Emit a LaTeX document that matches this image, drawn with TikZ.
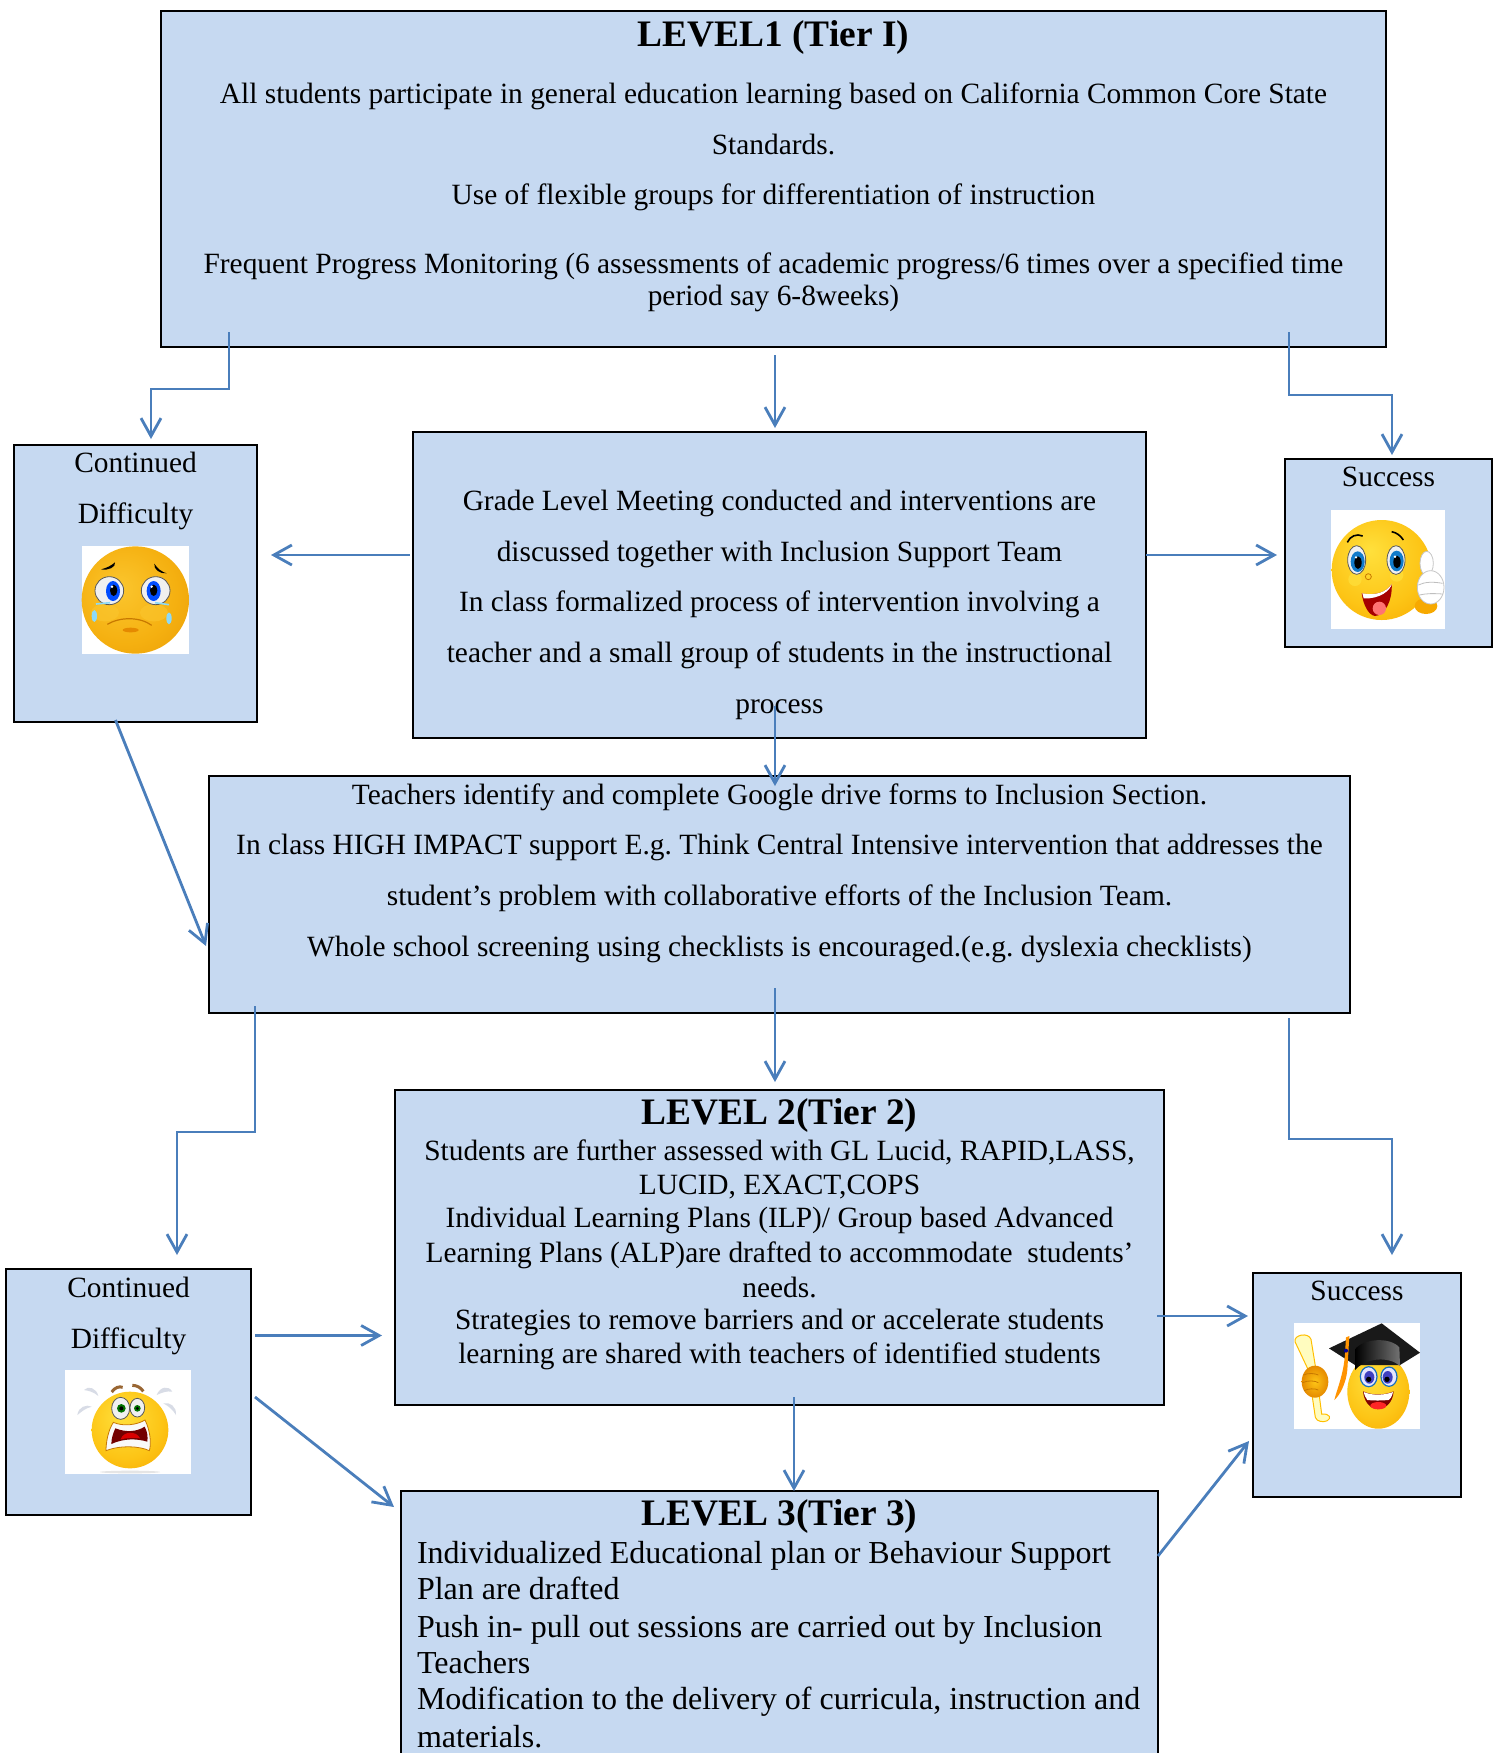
\documentclass[tikz,border=0pt]{standalone}
\usepackage{fontspec}
\setmainfont{Liberation Serif}
\usetikzlibrary{arrows.meta}
\definecolor{boxfill}{HTML}{C6D9F1}
\definecolor{arrowblue}{HTML}{4A7EBB}
\definecolor{emoA}{HTML}{FFE03C}
\definecolor{emoB}{HTML}{FDC516}
\definecolor{emoC}{HTML}{F7A900}
\definecolor{emoD}{HTML}{E58A00}
\definecolor{emoE}{HTML}{C77800}
\definecolor{sadA}{HTML}{FBC62E}
\definecolor{sadB}{HTML}{F5B010}
\definecolor{sadC}{HTML}{E89A05}
\definecolor{sadD}{HTML}{D98400}
\definecolor{dropc}{HTML}{D8DCE6}
\pgfdeclareradialshading{emoball}{\pgfpoint{-6bp}{10bp}}{color(0bp)=(emoA); color(24bp)=(emoB); color(40bp)=(emoC); color(52bp)=(emoD); color(60bp)=(emoE)}
\pgfdeclareradialshading{sadball}{\pgfpoint{-8bp}{6bp}}{color(0bp)=(sadA); color(24bp)=(sadB); color(42bp)=(sadC); color(55bp)=(sadD); color(62bp)=(emoE)}
\newcommand\txl[2]{{\baselineskip=\dimexpr#1pt/2\relax #2\par}}
\newcommand\titl[2]{{\titlefont\baselineskip=\dimexpr#1pt/2\relax #2\par}}
\newcommand\boxtext[4][\centering]{\vbox to \dimexpr#3pt/2\relax{\hsize=\dimexpr#2pt/2\relax\frenchspacing #1\lineskiplimit=-1000pt\prevdepth=0pt #4\vss}}
\newcommand\titlefont{\fontsize{18.7}{20}\selectfont\bfseries}
\tikzset{
  diagbox/.style={draw=black,line width=1pt,fill=boxfill,inner sep=0pt,outer sep=0pt,font=\fontsize{14.7}{16}\selectfont},
  arr/.style={draw=arrowblue,line width=1.4pt,-{Straight Barb[length=9pt,width=10pt,line width=1.4pt]}},
  emoscale/.style={x=.16667pt,y=-.16667pt},
  eyew/.style={fill=white!88!gray,draw=black!65,line width=.4pt},
  glove/.style={fill=white,draw=gray!45,line width=.4pt}
}
\begin{document}
\begin{tikzpicture}[x=.5pt,y=-.5pt]
\useasboundingbox (0,0) rectangle (1501,1753);
\clip (0,0) rectangle (1501,1753);
\node[diagbox,minimum width=612.5pt,minimum height=168pt] (l1) at (773.5,179) {\boxtext{1225}{336}{%
  \titl{35}{LEVEL1 (Tier I)}
  \txl{57}{All students participate in general education learning based on California Common Core State}
  \txl{51}{Standards.}
  \txl{50.5}{Use of flexible groups for differentiation of instruction}
  \txl{68.5}{Frequent Progress Monitoring (6 assessments of academic progress/6 times over a specified time}
  \txl{32}{period say 6-8weeks)}}};
\node[diagbox,minimum width=366.5pt,minimum height=153pt] (mid) at (779.5,585) {\boxtext{733}{306}{%
  \txl{78}{Grade Level Meeting conducted and interventions are}
  \txl{51}{discussed together with Inclusion Support Team}
  \txl{50}{In class formalized process of intervention involving a}
  \txl{51}{teacher and a small group of students in the instructional}
  \txl{51}{process}}};
\node[diagbox,minimum width=570.5pt,minimum height=118.5pt] (tier) at (779.5,894.5) {\boxtext{1141}{237}{%
  \txl{28}{Teachers identify and complete Google drive forms to Inclusion Section.}
  \txl{50}{In class HIGH IMPACT support E.g. Think Central Intensive intervention that addresses the}
  \txl{51}{student’s problem with collaborative efforts of the Inclusion Team.}
  \txl{51}{Whole school screening using checklists is encouraged.(e.g. dyslexia checklists)}}};
\node[diagbox,minimum width=384.5pt,minimum height=157.5pt] (l2) at (779.5,1247.5) {\boxtext{769}{315}{%
  \titl{34}{LEVEL 2(Tier 2)}
  \txl{36}{Students are further assessed with GL Lucid, RAPID,LASS,}
  \txl{34}{LUCID, EXACT,COPS}
  \txl{33}{Individual Learning Plans (ILP)/ Group based Advanced}
  \txl{35}{Learning Plans (ALP)are drafted to accommodate\ \ students’}
  \txl{35}{needs.}
  \txl{32}{Strategies to remove barriers and or accelerate students}
  \txl{34}{learning are shared with teachers of identified students}}};
\node[diagbox,font=\fontsize{16}{18}\selectfont,minimum width=378.5pt,minimum height=144.5pt] (l3) at (779.5,1635.5) {\boxtext[\raggedright\leftskip=8pt\relax]{757}{289}{%
  \titl{34}{\hfill LEVEL 3(Tier 3)\hfill\hskip 8pt\hbox{}}
  \txl{38}{Individualized Educational plan or Behaviour Support}
  \txl{36}{Plan are drafted}
  \txl{38}{Push in- pull out sessions are carried out by Inclusion}
  \txl{36}{Teachers}
  \txl{36}{Modification to the delivery of curricula, instruction and}
  \txl{38}{materials.}}};
\node[diagbox,minimum width=121.5pt,minimum height=138.5pt] (cd1) at (135.5,583.5) {\boxtext{243}{277}{%
  \txl{27}{Continued}
  \txl{51}{Difficulty}}};
\node[diagbox,minimum width=103.5pt,minimum height=94pt] (s1) at (1388.5,553) {\boxtext{207}{188}{%
  \txl{27}{Success}}};
\node[diagbox,minimum width=122.5pt,minimum height=123pt] (cd2) at (128.5,1392) {\boxtext{245}{246}{%
  \txl{28}{Continued}
  \txl{51}{Difficulty}}};
\node[diagbox,minimum width=104pt,minimum height=112pt] (s2) at (1357,1385) {\boxtext{208}{224}{%
  \txl{27}{Success}}};

% sad face
\begin{scope}[shift={(0,430)},emoscale]
  \fill[white] (246,348) rectangle (567,671);
  \shade[shading=sadball] (406,510) circle [x radius=161,y radius=161];
  \fill[sadA,opacity=.6] (315,548) ellipse [x radius=42,y radius=26];
  \fill[sadA,opacity=.6] (462,548) ellipse [x radius=42,y radius=26];
  \draw[eyew] (328,482) ellipse [x radius=43,y radius=42];
  \draw[eyew] (467,482) ellipse [x radius=43,y radius=42];
  \fill[blue!70!cyan] (339,483) ellipse [x radius=21,y radius=30];
  \fill[blue!70!cyan] (461,483) ellipse [x radius=21,y radius=30];
  \fill[black] (341,481) ellipse [x radius=11,y radius=17];
  \fill[black] (461,481) ellipse [x radius=11,y radius=17];
  \fill[white] (336,470) circle [radius=4];
  \fill[white] (455,470) circle [radius=4];
  \fill[black] (303,418) .. controls (320,414) and (335,406) .. (345,397) .. controls (348,412) and (325,422) .. cycle;
  \fill[black] (500,430) .. controls (485,426) and (472,415) .. (463,401) .. controls (460,418) and (480,432) .. cycle;
  \fill[cyan!45] (283,558) ellipse [x radius=8,y radius=18];
  \fill[cyan!45] (507,565) ellipse [x radius=8,y radius=18];
  \draw[cyan!45,line width=.8pt] (288,522) -- (330,518);
  \draw[cyan!45,line width=.8pt] (465,518) -- (507,524);
  \draw[emoE,line width=.6pt] (322,583) .. controls (360,560) and (420,560) .. (455,586);
  \fill[emoD] (392,600) ellipse [x radius=24,y radius=7];
\end{scope}

% thumbs-up face
\begin{scope}[shift={(1270,450)},emoscale]
  \fill[white] (183,180) rectangle (525,537);
  \shade[shading=emoball] (335,360) circle [x radius=150,y radius=150];
  \fill[emoA,opacity=.7] (255,388) circle [radius=20];
  \fill[emoA,opacity=.7] (380,375) circle [radius=20];
  \draw[eyew] (260,330) ellipse [x radius=27,y radius=43];
  \draw[eyew] (378,330) ellipse [x radius=27,y radius=43];
  \fill[cyan!60!blue] (263,335) ellipse [x radius=21,y radius=31];
  \fill[cyan!60!blue] (380,333) ellipse [x radius=21,y radius=31];
  \fill[black] (264,338) ellipse [x radius=11,y radius=19];
  \fill[black] (381,336) ellipse [x radius=11,y radius=19];
  \fill[white] (258,322) circle [radius=4];
  \fill[white] (375,320) circle [radius=4];
  \draw[black,line width=.8pt] (232,277) .. controls (240,258) and (260,250) .. (278,258);
  \draw[black,line width=.8pt] (365,245) .. controls (380,248) and (392,257) .. (400,270);
  \draw[emoE,line width=.4pt] (295,380) circle [radius=9];
  \fill[red!65!black] (275,430) .. controls (320,438) and (350,425) .. (365,402) .. controls (368,450) and (345,497) .. (315,498) .. controls (295,495) and (280,465) .. cycle;
  \fill[white] (277,430) .. controls (320,438) and (350,425) .. (365,402) .. controls (362,420) and (330,448) .. (281,445) -- cycle;
  \fill[red!40!pink] (328,475) ellipse [x radius=20,y radius=20];
  \fill[emoC] (468,468) ellipse [x radius=34,y radius=24];
  \draw[glove] (470,340) ellipse [x radius=20,y radius=36];
  \draw[glove] (482,412) ellipse [x radius=40,y radius=50];
  \draw[gray!50,line width=.4pt] (445,405) .. controls (465,395) and (490,395) .. (518,400);
  \draw[gray!50,line width=.4pt] (448,435) .. controls (470,430) and (490,430) .. (518,432);
\end{scope}

% scared face
\begin{scope}[shift={(0,1260)},emoscale]
  \fill[white] (195,330) rectangle (573,641);
  \fill[gray!20] (390,636) ellipse [x radius=90,y radius=4];
  \shade[shading=emoball] (390,510) circle [x radius=115,y radius=115];
  \fill[dropc] (252,390) .. controls (265,375) and (290,385) .. (295,408) .. controls (280,395) and (265,392) .. cycle;
  \fill[dropc] (232,465) .. controls (235,440) and (260,432) .. (275,440) .. controls (255,445) and (245,455) .. cycle;
  \fill[dropc] (470,405) .. controls (480,380) and (505,375) .. (517,395) .. controls (500,392) and (485,398) .. cycle;
  \fill[dropc] (490,430) .. controls (510,425) and (530,440) .. (528,465) .. controls (518,448) and (505,438) .. cycle;
  \draw[eyew] (362,445) ellipse [x radius=27,y radius=33];
  \draw[eyew] (412,443) ellipse [x radius=22,y radius=28];
  \fill[green!45!black] (364,445) circle [radius=13];
  \fill[green!45!black] (412,445) circle [radius=10];
  \fill[black] (364,445) circle [radius=6];
  \fill[black] (412,445) circle [radius=5];
  \draw[brown!80!black,line width=1.5pt] (335,396) .. controls (345,382) and (358,378) .. (368,382);
  \draw[brown!80!black,line width=1.5pt] (397,376) .. controls (410,376) and (422,382) .. (430,394);
  \draw[emoE,fill=white!95!gray,line width=.4pt] (340,487) .. controls (370,500) and (410,495) .. (435,480) .. controls (450,510) and (455,550) .. (448,572) .. controls (420,558) and (360,555) .. (318,572) .. controls (318,545) and (325,510) .. cycle;
  \fill[red!45!black] (346,505) .. controls (380,518) and (410,515) .. (434,500) .. controls (442,515) and (444,530) .. (442,545) .. controls (410,535) and (370,535) .. (334,552) .. controls (334,535) and (340,518) .. cycle;
  \fill[red!85!black] (362,538) .. controls (370,512) and (410,512) .. (420,535) .. controls (400,532) and (380,534) .. cycle;
\end{scope}

% graduate face
\begin{scope}[shift={(1240,1260)},emoscale]
  \fill[white] (162,189) rectangle (540,507);
  \shade[shading=emoball] (415,395) ellipse [x radius=93,y radius=111];
  \fill[black!90] (267,265) -- (425,190) -- (540,278) -- (480,315) -- (345,315) -- cycle;
  \shade[left color=black,right color=black!55] (345,268) .. controls (370,235) and (450,230) .. (478,262) -- (480,318) .. controls (450,290) and (380,290) .. (345,330) -- cycle;
  \fill[orange!85!yellow] (318,232) -- (328,228) -- (322,330) .. controls (318,370) and (300,405) .. (283,420) .. controls (290,390) and (312,340) .. (315,280) -- cycle;
  \fill[blue!60!black] (318,272) circle [radius=6];
  \draw[fill=white!90!blue,draw=cyan!50!blue,line width=.6pt] (386,350) ellipse [x radius=25,y radius=30];
  \draw[fill=white!90!blue,draw=cyan!50!blue,line width=.6pt] (447,350) ellipse [x radius=24,y radius=29];
  \fill[blue!50!gray] (388,352) ellipse [x radius=15,y radius=19];
  \fill[blue!50!gray] (443,352) ellipse [x radius=15,y radius=19];
  \fill[black] (386,358) circle [radius=8];
  \fill[black] (441,358) circle [radius=8];
  \fill[red!50!black] (369,394) .. controls (400,408) and (435,405) .. (461,394) .. controls (458,430) and (435,447) .. (413,447) .. controls (390,447) and (372,425) .. cycle;
  \fill[white] (371,396) .. controls (400,408) and (435,405) .. (459,396) .. controls (456,410) and (450,418) .. (445,420) .. controls (425,422) and (400,422) .. (382,420) .. controls (376,412) and (373,405) .. cycle;
  \fill[red!80!pink] (415,437) ellipse [x radius=24,y radius=11];
  \draw[fill=yellow!25!white,draw=orange!50!yellow,line width=.5pt] (165,245) .. controls (160,225) and (205,215) .. (213,238) -- (228,330) -- (245,462) .. controls (270,460) and (275,475) .. (262,482) .. controls (250,488) and (230,485) .. (226,472) -- (205,330) -- cycle;
  \shade[inner color=emoB,outer color=emoD] (225,365) ellipse [x radius=40,y radius=48];
  \draw[emoE,line width=.4pt] (190,345) .. controls (205,338) and (225,340) .. (235,345);
  \draw[emoE,line width=.4pt] (187,368) .. controls (205,360) and (225,362) .. (235,368);
  \draw[emoE,line width=.4pt] (192,392) .. controls (205,385) and (225,385) .. (235,390);
\end{scope}

% connectors
\draw[arr] ([shift={(68,-15)}]l1.south west) -- ++(0,57) -| ([shift={(15.5,-6)}]cd1.north);
\draw[arr] ([shift={(1.5,8)}]l1.south) -- ([shift={(-4.5,-4)}]mid.north);
\draw[arr] ([shift={(-97,-15)}]l1.south east) -- ++(0,63) -| ([shift={(3.5,-4)}]s1.north);
\draw[arr] ([shift={(-3.5,-30)}]mid.west) -- ([shift={(14,-28.5)}]cd1.east);
\draw[arr] ([shift={(0,-30)}]mid.east) -- ([shift={(-8,2)}]s1.west);
\draw[arr] ([shift={(-4.5,-32)}]mid.south) -- ([shift={(-4.5,10)}]tier.north);
\draw[arr] ([shift={(-20,-2)}]cd1.south) -- ([shift={(-3,51.5)}]tier.west);
\draw[arr] ([shift={(-4.5,-25)}]tier.south) -- ([shift={(-4.5,-8)}]l2.north);
\draw[arr] ([shift={(46,-7)}]tier.south west) -- ++(0,126) -| ([shift={(48.5,-14)}]cd2.north);
\draw[arr] ([shift={(-61,5)}]tier.south east) -- ++(0,121) -| ([shift={(35,-18)}]s2.north);
\draw[arr] ([shift={(4,-56.5)}]cd2.east) -- ([shift={(-13,88)}]l2.west);
\draw[arr] ([shift={(4,5)}]cd2.east) -- ([shift={(-7,16)}]l3.north west);
\draw[arr] ([shift={(-7,68.5)}]l2.east) -- ([shift={(-5,-69)}]s2.west);
\draw[arr] ([shift={(14.5,-8)}]l2.south) -- ([shift={(14.5,0)}]l3.north);
\draw[arr] ([shift={(0,65)}]l3.north east) -- ([shift={(-4,56)}]s2.west);
\end{tikzpicture}
\end{document}
